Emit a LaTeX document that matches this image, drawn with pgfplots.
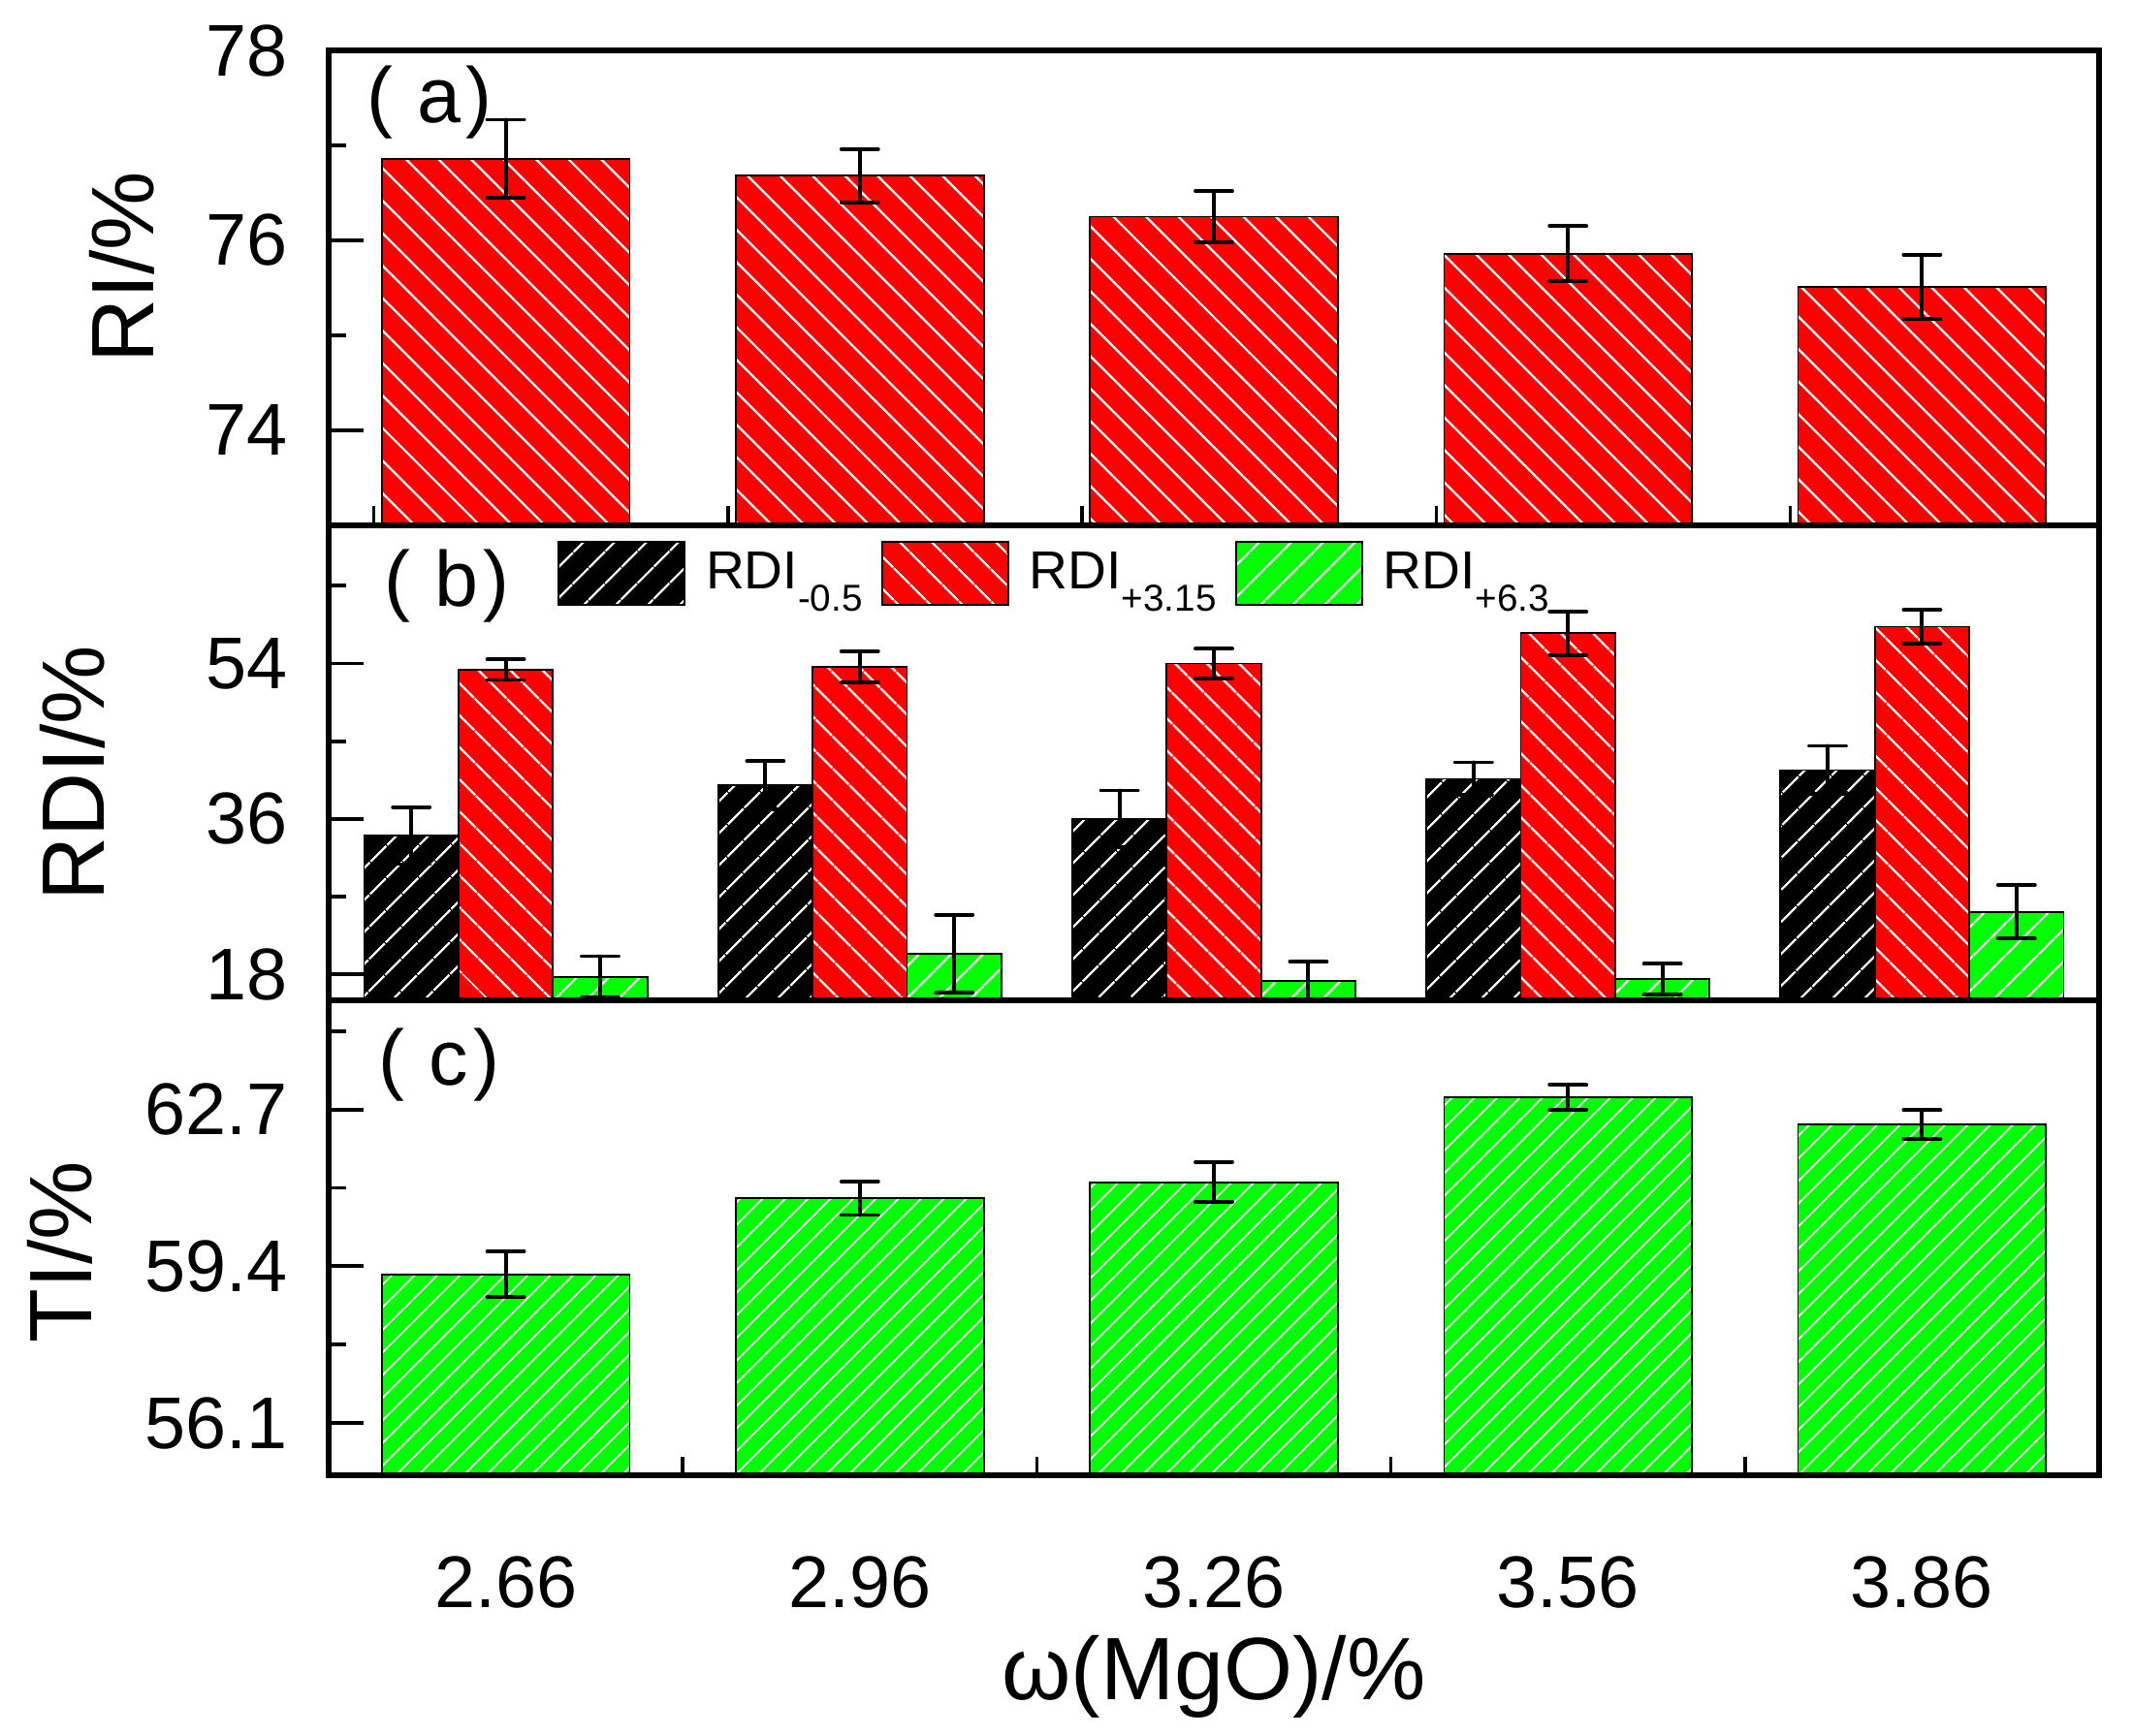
\documentclass[border=0pt]{standalone}
\usepackage{fontspec}
\setmainfont{Liberation Sans}
\usepackage{pgfplots}
\pgfplotsset{compat=1.18}
\usetikzlibrary{patterns.meta}

\definecolor{ored}{RGB}{255,0,0}
\definecolor{ogreen}{RGB}{0,255,0}

\newcommand{\tickfont}{\fontsize{21.5}{24}\selectfont}
\newcommand{\labfont}{\fontsize{26}{30}\selectfont}
\newcommand{\panfont}{\fontsize{23}{26}\selectfont}
\newcommand{\legfont}{\fontsize{15.7}{18}\selectfont}
\newcommand{\sub}[1]{\raisebox{-0.23cm}{\fontsize{11}{12}\selectfont #1}}
\newcommand{\panel}[1]{(\hspace{0.25cm}#1\hspace{0.05cm})}

\pgfplotsset{
  panel/.style={
    width=18.26cm, height=4.9cm, scale only axis,
    axis on top,
    xmin=-0.5, xmax=4.5,
    axis line style={line width=1.7pt},
    tick style={line width=1.1pt, black},
    major tick length=0.36cm, minor tick length=0.18cm,
    tick align=inside,
    xtick pos=bottom, ytick pos=left,
    yticklabel style={font=\tickfont, anchor=east, inner sep=0pt, xshift=-0.42cm},
    ylabel style={font=\labfont, anchor=base},
  },
  hatch/.style n args={3}{
    preaction={fill=#1},
    pattern={Lines[angle=#2, distance=#3, line width=0.65pt]},
    pattern color=white, draw=black, line width=0.5pt},
  eb/.style={error bars/.cd, y dir=both, y explicit,
    error bar style={line width=1.1pt, black, line cap=round},
    error mark options={rotate=90, line width=1.1pt, black, mark size=0.19cm, line cap=round}},
}

\begin{document}
\begin{tikzpicture}

% (a) RI
\begin{axis}[panel, name=pa, at={(0,0)}, anchor=north west,
  ymin=73, ymax=78,
  ytick={74,76,78}, yticklabels={74,76,78}, minor ytick={75,77},
  xtick=\empty,
  ylabel={RI/\%},
  ylabel style={at={(axis description cs:-0.0991,0.543)}},
  ybar, bar width=0.7,
]
\addplot[hatch={ored}{-45}{2.37mm}, eb] coordinates {
  (0,76.86) +- (0,0.41)
  (1,76.68) +- (0,0.28)
  (2,76.25) +- (0,0.27)
  (3,75.86) +- (0,0.29)
  (4,75.51) +- (0,0.34)
};
\pgfplotsinvokeforeach{-0.372,0.628,1.628,2.628,3.628}{
  \draw[line width=1pt] (axis cs:#1,73) -- (axis cs:#1,73.2);}
\node[anchor=base west, inner sep=0pt, font=\panfont] at (rel axis cs:0.0214,0.847) {\panel{a}};
\end{axis}

% (b) RDI
\begin{axis}[panel, name=pb, at={(0,-4.9cm)}, anchor=north west,
  ymin=15, ymax=70,
  ytick={18,36,54}, yticklabels={18,36,54}, minor ytick={27,45,63},
  xtick=\empty,
  ylabel={RDI/\%},
  ylabel style={at={(axis description cs:-0.127,0.478)}},
  ybar=0pt, bar width=0.2667,
  legend style={at={(rel axis cs:0.1292,0.967)}, anchor=north west,
    draw=none, fill=none, legend columns=3,
    font=\legfont, inner sep=0pt, outer sep=0pt,
    nodes={inner sep=0pt},
    /tikz/every odd column/.append style={column sep=0.21cm},
    /tikz/every even column/.append style={column sep=0.19cm}},
  legend image code/.code={\draw[#1, line width=0.6pt] (0cm,-0.33cm) rectangle (1.3cm,0.32cm);},
]
\addplot[hatch={black}{45}{2.35mm}, eb] coordinates {
  (0,34.07) +- (0,3.3)
  (1,39.90) +- (0,2.8)
  (2,36.00) +- (0,3.3)
  (3,40.65) +- (0,1.9)
  (4,41.66) +- (0,2.8)
};
\addlegendentry{\legfont RDI\sub{-0.5}}
\addplot[hatch={ored}{-45}{2.35mm}, eb] coordinates {
  (0,53.30) +- (0,1.2)
  (1,53.60) +- (0,1.8)
  (2,54.00) +- (0,1.7)
  (3,57.50) +- (0,2.5)
  (4,58.26) +- (0,1.95)
};
\addlegendentry{\legfont RDI\sub{+3.15}}
\addplot[hatch={ogreen}{45}{2.35mm}, eb] coordinates {
  (0,17.70) +- (0,2.4)
  (1,20.40) +- (0,4.5)
  (2,17.24) +- (0,2.25)
  (3,17.43) +- (0,1.8)
  (4,25.25) +- (0,3.1)
};
\addlegendentry{\legfont RDI\sub{+6.3}}
\node[anchor=base west, inner sep=0pt, font=\panfont] at (rel axis cs:0.031,0.829) {\panel{b}};
\end{axis}

% (c) TI
\begin{axis}[panel, name=pc, at={(0,-9.8cm)}, anchor=north west,
  ymin=55, ymax=65,
  ytick={56.1,59.4,62.7}, yticklabels={56.1,59.4,62.7},
  minor ytick={57.75,61.05,64.35},
  xtick={0,1,2,3,4}, xticklabels={2.66,2.96,3.26,3.56,3.86},
  major x tick style={draw=none},
  xticklabel style={font=\tickfont, anchor=base, inner sep=0pt, yshift=-1.0cm},
  xlabel={ω(MgO)/\%},
  xlabel style={font=\labfont, at={(axis description cs:0.5,0)}, anchor=base, yshift=-2.31cm},
  ylabel={TI/\%},
  ylabel style={at={(axis description cs:-0.134,0.47)}},
  ybar, bar width=0.7,
]
\addplot[preaction={fill=ogreen},
  pattern={Lines[angle=45, distance=1.65mm, line width=0.5pt]},
  pattern color=white, draw=black, line width=0.5pt, eb] coordinates {
  (0,59.23) +- (0,0.48)
  (1,60.83) +- (0,0.35)
  (2,61.17) +- (0,0.42)
  (3,62.96) +- (0,0.26)
  (4,62.39) +- (0,0.30)
};
\pgfplotsinvokeforeach{0.5,1.5,2.5,3.5}{
  \draw[line width=1pt] (axis cs:#1,55) -- (axis cs:#1,55.39);}
\node[anchor=base west, inner sep=0pt, font=\panfont] at (rel axis cs:0.028,0.821) {\panel{c}};
\end{axis}

\pgfresetboundingbox
\path (-3.39cm,0.52cm) rectangle (18.61cm,-17.38cm);
\end{tikzpicture}
\end{document}
